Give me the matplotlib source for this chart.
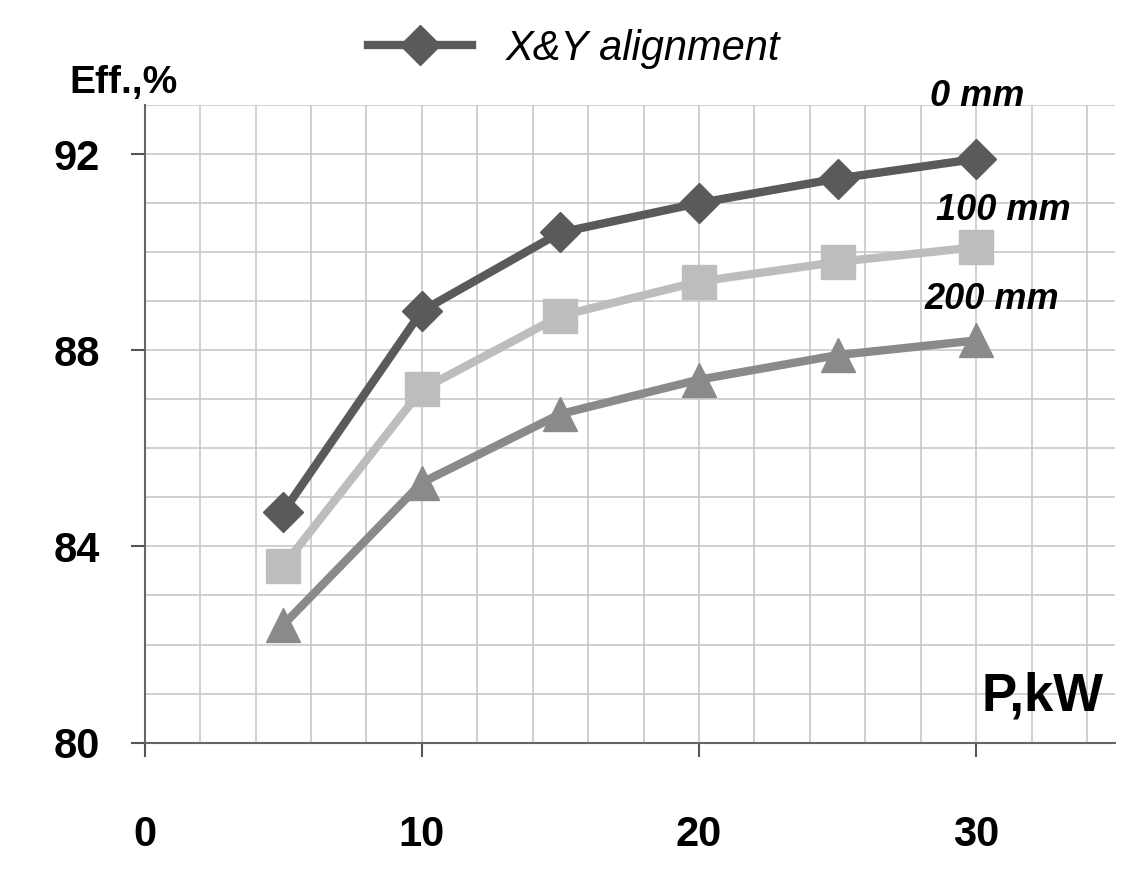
import matplotlib
matplotlib.use("Agg")
import matplotlib.pyplot as plt
from matplotlib.lines import Line2D

plt.rcParams['font.family'] = ['Liberation Sans', 'DejaVu Sans']

power = [5, 10, 15, 20, 25, 30]
eff_0mm = [84.7, 88.8, 90.4, 91.0, 91.5, 91.9]
eff_100mm = [83.6, 87.2, 88.7, 89.4, 89.8, 90.1]
eff_200mm = [82.4, 85.3, 86.7, 87.4, 87.9, 88.2]
xticks = [0, 10, 20, 30]
yticks = [80, 84, 88, 92]

fig = plt.figure(figsize=(11.48, 8.82), dpi=100)
ax = fig.add_axes([0.126, 0.158, 0.845, 0.723])
ax.set_xlim(0, 35)
ax.set_ylim(80, 93)
ax.set_xticks(range(0, 36, 2), minor=True)
ax.set_yticks(range(80, 94, 1), minor=True)
ax.grid(which='both', color='#c8c8c8', lw=1.2)
ax.set_xticks(xticks)
ax.set_yticks(yticks)
ax.tick_params(which='minor', length=0)
ax.tick_params(which='major', labelsize=30, length=10, width=1.5, color='#555')
ax.tick_params(axis='x', pad=42)
ax.tick_params(axis='y', pad=22)
for l in ax.get_xticklabels() + ax.get_yticklabels():
    l.set_fontweight('bold')
for s in ['top', 'right']:
    ax.spines[s].set_visible(False)
for s in ['left', 'bottom']:
    ax.spines[s].set_color('#666'); ax.spines[s].set_linewidth(1.5)
ax.set_axisbelow(True)

ax.plot(power, eff_0mm, color='#5a5a5a', lw=6, marker='D', ms=20, clip_on=False, zorder=3)
ax.plot(power, eff_100mm, color='#bdbdbd', lw=6, marker='s', ms=24, clip_on=False, zorder=3)
ax.plot(power, eff_200mm, color='#8a8a8a', lw=6, marker='^', ms=24, clip_on=False, zorder=3)

h = Line2D([], [], color='#5a5a5a', lw=6, marker='D', ms=20)
fig.legend([h], ['X&Y alignment'], loc='center', bbox_to_anchor=(0.5, 0.945),
           frameon=False, prop={'style': 'italic', 'size': 30}, handlelength=2.5)

fig.text(0.06, 0.895, 'Eff.,%', fontsize=28, fontweight='bold')
fig.text(0.81, 0.88, '0 mm', fontsize=26, fontweight='bold', style='italic')
fig.text(0.815, 0.75, '100 mm', fontsize=26, fontweight='bold', style='italic')
fig.text(0.805, 0.65, '200 mm', fontsize=26, fontweight='bold', style='italic')
fig.text(0.855, 0.195, 'P,kW', fontsize=38, fontweight='bold')

fig.savefig('out.png', dpi=100)
